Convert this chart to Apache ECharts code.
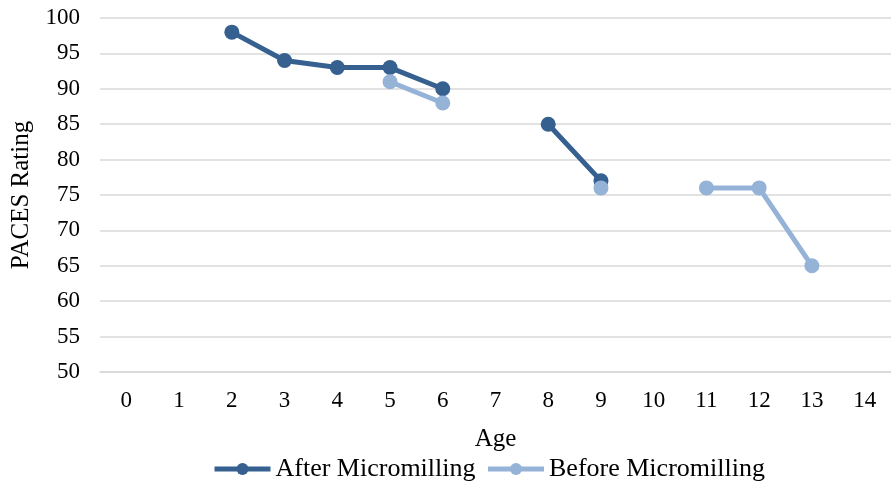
<!DOCTYPE html>
<html><head><meta charset="utf-8">
<script src="https://cdn.jsdelivr.net/npm/echarts@6/dist/echarts.min.js"></script>
<style>html,body{margin:0;padding:0;background:#fff}#c{width:891px;height:487px}</style>
</head><body><div id="c"></div>
<script>
const categories = ['0','1','2','3','4','5','6','7','8','9','10','11','12','13','14'];
const afterValues = [null,null,98,94,93,93,90,null,85,77,null,null,null,null,null];
const beforeValues = [null,null,null,null,null,91,88,null,null,76,null,76,76,65,null];
const yTicks = {min:50,max:100,interval:5};
const font = 'Liberation Serif';
const chart = echarts.init(document.getElementById('c'));
chart.setOption({
  animation:false,
  textStyle:{fontFamily:font},
  grid:{left:100,right:-4,top:18,bottom:115,containLabel:false},
  legend:{bottom:0,left:207,itemWidth:56,itemHeight:15,itemGap:10,
    lineStyle:{width:5},
    textStyle:{fontFamily:font,fontSize:26,color:'#000'},
    data:['After Micromilling','Before Micromilling']},
  xAxis:{type:'category',data:categories,boundaryGap:true,
    name:'Age',nameLocation:'middle',nameGap:55,
    nameTextStyle:{fontFamily:font,fontSize:25,color:'#000'},
    axisLine:{show:true,lineStyle:{color:'#d9d9d9',width:1.5}},
    axisTick:{show:false},
    axisLabel:{fontFamily:font,fontSize:23,color:'#000',margin:17}},
  yAxis:{type:'value',min:yTicks.min,max:yTicks.max,interval:yTicks.interval,
    name:'PACES Rating',nameLocation:'middle',nameGap:66,nameRotate:90,
    nameTextStyle:{fontFamily:font,fontSize:25,color:'#000'},
    axisLine:{show:false},axisTick:{show:false},
    axisLabel:{fontFamily:font,fontSize:23,color:'#000',margin:20},
    splitLine:{lineStyle:{color:'#d9d9d9',width:1.5}}},
  series:[
    {name:'After Micromilling',type:'line',data:afterValues,connectNulls:false,
      symbol:'circle',symbolSize:15,color:'#36608f',
      lineStyle:{width:5,color:'#36608f'},itemStyle:{color:'#36608f'}},
    {name:'Before Micromilling',type:'line',data:beforeValues,connectNulls:false,
      symbol:'circle',symbolSize:15,color:'#95b3d7',
      lineStyle:{width:5,color:'#95b3d7'},itemStyle:{color:'#95b3d7'}}
  ]
});
</script></body></html>
